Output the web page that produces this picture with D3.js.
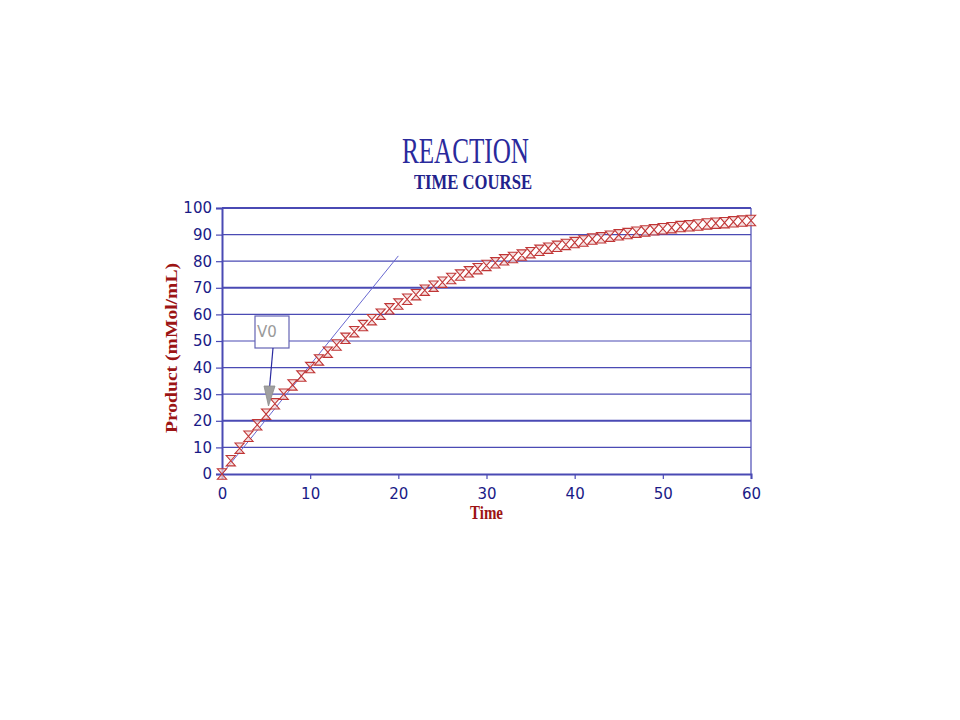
<!DOCTYPE html>
<html><head><meta charset="utf-8">
<script src="https://cdn.jsdelivr.net/npm/d3@7"></script>
<style>body{margin:0;background:#fff}svg{display:block}</style>
</head><body>
<svg id="c" width="960" height="720"></svg>
<script>
// ---- data ----
const times = d3.range(0, 61); // sample times 0..60
const product = [0,5.0,9.7,14.2,18.5,22.5,26.4,30.0,33.5,36.8,40.0,42.9,45.8,48.5,51.0,53.5,55.8,58.0,60.1,62.1,
  63.9,65.7,67.4,69.1,70.6,72.1,73.5,74.8,76.0,77.2,78.4,79.4,80.5,81.4,82.3,83.2,84.1,84.9,85.6,86.3,
  87.0,87.6,88.3,88.8,89.4,89.9,90.4,90.9,91.4,91.8,92.2,92.6,93.0,93.3,93.6,94.0,94.3,94.5,94.8,95.1,95.3];
const tangentT = [0, 20];
const tangentP = [0, 82];
const xTicks = [0,10,20,30,40,50,60];
const yTicks = [0,10,20,30,40,50,60,70,80,90,100];
const titleMain = "REACTION", titleSub = "TIME COURSE";
const xLabel = "Time", yLabel = "Product (mMol/mL)";
const noteText = "V0";

// ---- chart ----
const svg = d3.select("#c");
svg.append("rect").attr("width",960).attr("height",720).attr("fill","#fff");
const x = d3.scaleLinear().domain([0,60]).range([222,751]);
const y = d3.scaleLinear().domain([0,100]).range([474,208]);
const blue = "#4a4ab4", textBlue = "#1a1a86", red = "#9c1414";
const sans = "'DejaVu Sans', Verdana, sans-serif";
const serif = "'Liberation Serif', 'Times New Roman', serif";

// gridlines
svg.append("g").selectAll("line").data(yTicks.filter(d=>d>0)).join("line")
  .attr("x1",x(0)).attr("x2",x(60)).attr("y1",d=>y(d)).attr("y2",d=>y(d))
  .attr("stroke",blue).attr("stroke-width",d=>(d===100||d===70||d===20)?2:1.2);
// right border
svg.append("line").attr("x1",x(60)).attr("x2",x(60)).attr("y1",y(100)).attr("y2",y(0))
  .attr("stroke",blue).attr("stroke-width",1.2);

// axes
const yAxis = d3.axisLeft(y).tickValues(yTicks).tickSize(6).tickPadding(4);
const gy = svg.append("g").attr("transform",`translate(${x(0)},0)`).call(yAxis);
const xAxis = d3.axisBottom(x).tickValues(xTicks).tickSize(5).tickPadding(6);
const gx = svg.append("g").attr("transform",`translate(0,${y(0)})`).call(xAxis);
[gx,gy].forEach(g=>{
  g.select(".domain").attr("stroke",blue).attr("stroke-width",2);
  g.selectAll(".tick line").attr("stroke",blue).attr("stroke-width",1.2);
  g.selectAll(".tick text").attr("fill",textBlue)
   .attr("font-family",sans).attr("font-size",15);
});
gx.selectAll(".tick text").attr("dy","0.95em");

// tangent line
svg.append("line").attr("x1",x(tangentT[0])).attr("y1",y(tangentP[0]))
  .attr("x2",x(tangentT[1])).attr("y2",y(tangentP[1]))
  .attr("stroke","#6868d0").attr("stroke-width",1);

// markers (hourglass)
const pts = times.map((t,i)=>({t, p: product[i]}));
const hw = 4.6, hh = 5.2;
svg.append("g").selectAll("path").data(pts).join("path")
  .attr("transform",d=>`translate(${x(d.t)},${y(d.p)})`)
  .attr("d",`M${-hw},${-hh}L${hw},${-hh}L${-hw},${hh}L${hw},${hh}Z`)
  .attr("fill","#f2d4d4").attr("fill-opacity",0.7)
  .attr("stroke","#c03636").attr("stroke-width",1.1);

// V0 annotation
const bx0 = 255, by0 = 316, bw = 34, bh = 32;
svg.append("rect").attr("x",bx0).attr("y",by0).attr("width",bw).attr("height",bh)
  .attr("fill","#fff").attr("stroke","#6464b4").attr("stroke-width",1.2);
svg.append("text").attr("x",bx0+2).attr("y",by0+21).text(noteText)
  .attr("fill","#9a9a9a").attr("font-family",sans).attr("font-size",15);
svg.append("line").attr("x1",273).attr("y1",by0+bh).attr("x2",269.5).attr("y2",388)
  .attr("stroke","#2a2aa0").attr("stroke-width",1.2);
svg.append("path").attr("d","M264,386L275,386L268.5,406Z").attr("fill","#a0a0a0").attr("stroke","#8c8c8c").attr("stroke-width",0.8);

// titles
svg.append("text").attr("x",402).attr("y",163).text(titleMain)
  .attr("fill","#2a2a9c").attr("font-family",serif)
  .attr("font-size",36).attr("textLength",127).attr("lengthAdjust","spacingAndGlyphs");
svg.append("text").attr("x",414).attr("y",189).text(titleSub)
  .attr("fill","#22228c").attr("font-family",serif)
  .attr("font-size",22).attr("font-weight","bold").attr("textLength",118).attr("lengthAdjust","spacingAndGlyphs");

// axis labels
svg.append("text").attr("x",470).attr("y",519).text(xLabel)
  .attr("fill",red).attr("font-family",serif)
  .attr("font-size",18).attr("font-weight","bold").attr("textLength",33).attr("lengthAdjust","spacingAndGlyphs");
svg.append("text").attr("transform","translate(177,433) rotate(-90)").text(yLabel)
  .attr("fill",red).attr("font-family",serif)
  .attr("font-size",16).attr("font-weight","bold").attr("textLength",170).attr("lengthAdjust","spacingAndGlyphs");
</script>
</body></html>
